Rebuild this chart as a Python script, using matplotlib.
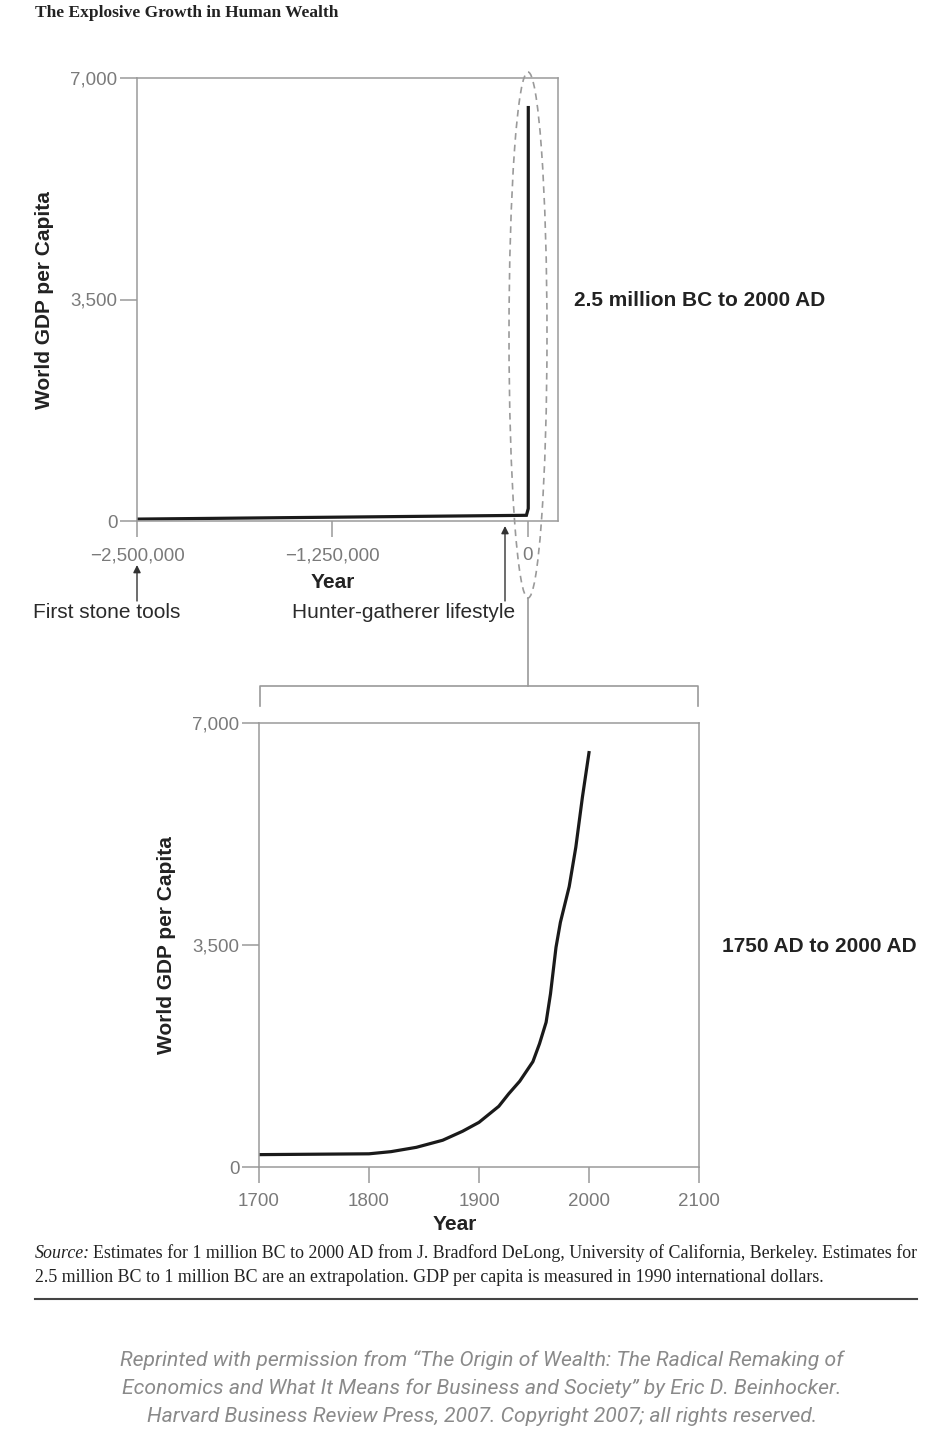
import matplotlib
matplotlib.use("Agg")
import matplotlib.pyplot as plt
from matplotlib.patches import Ellipse
from matplotlib.ticker import FuncFormatter

# data
prehist_years = [-2500000, -1250000, -10000]
prehist_gdp = [30, 60, 90]
years = [1700, 1800, 1820, 1843, 1867, 1885, 1900, 1918, 1927, 1937,
         1949, 1955, 1961, 1965, 1970, 1974, 1982, 1988, 1994, 2000]
gdp = [195, 208, 242, 310, 422, 563, 704, 957, 1154, 1352,
       1661, 1943, 2281, 2731, 3463, 3858, 4421, 5040, 5829, 6533]
top_xticks = [-2500000, -1250000, 0]
bottom_xticks = [1700, 1800, 1900, 2000, 2100]
yticks = [0, 3500, 7000]

SANS = ['Liberation Sans', 'DejaVu Sans']
SERIF = ['Liberation Serif', 'DejaVu Serif']
GRAY = '#9a9a9a'
TICKC = '#7a7a7a'

W, H = 950, 1432
fig = plt.figure(figsize=(W / 100, H / 100), dpi=100)
fig.patch.set_facecolor('white')


def px_axes(l, t, r, b):
    return fig.add_axes([l / W, 1 - b / H, (r - l) / W, (b - t) / H])


fmt = FuncFormatter(lambda v, p: '{:,.0f}'.format(v).replace('-', '\u2212'))


def style(ax, xpad):
    for s in ax.spines.values():
        s.set_color(GRAY)
        s.set_linewidth(1.1)
    ax.tick_params(axis='both', colors=GRAY, labelcolor=TICKC, labelsize=13.5,
                   width=1.1)
    ax.tick_params(axis='y', length=12.5, pad=1.5)
    ax.tick_params(axis='x', length=11.5, pad=xpad)
    ax.set_yticks(yticks)
    ax.yaxis.set_major_formatter(fmt)
    ax.set_ylim(0, 7000)
    for lab in ax.get_xticklabels() + ax.get_yticklabels():
        lab.set_family(SANS)


# top chart
ax1 = px_axes(137, 78, 558, 521)
ax1.plot(prehist_years + years, prehist_gdp + gdp, color='#1a1a1a', lw=2.3,
         solid_joinstyle='miter')
ax1.set_xlim(-2500000, 192000)
ax1.set_xticks(top_xticks)
ax1.xaxis.set_major_formatter(fmt)
style(ax1, 7.5)

# bottom chart
ax2 = px_axes(259, 723, 699, 1167)
ax2.plot(years, gdp, color='#1a1a1a', lw=2.3)
ax2.set_xlim(1700, 2100)
ax2.set_xticks(bottom_xticks)
style(ax2, 7.0)

# overlay in pixel coordinates for labels and connectors
ov = fig.add_axes([0, 0, 1, 1], zorder=5)
ov.set_xlim(0, W)
ov.set_ylim(H, 0)
ov.axis('off')
ov.patch.set_alpha(0)

ov.text(35, 13, 'The Explosive Growth in Human Wealth', family=SERIF,
        weight='bold', fontsize=12.5, color='#222', va='center', ha='left')

ylab = dict(family=SANS, weight='bold', fontsize=15, color='#222',
            rotation=90, ha='center', va='center')
ov.text(45, 300, 'World GDP per Capita', **ylab)
ov.text(167, 945, 'World GDP per Capita', **ylab)

xlab = dict(family=SANS, weight='bold', fontsize=15, color='#222',
            ha='center', va='center')
ov.text(333, 582, 'Year', **xlab)
ov.text(455, 1225, 'Year', **xlab)

ov.text(574, 301, '2.5 million BC to 2000 AD', family=SANS, weight='bold',
        fontsize=15, color='#222', va='center', ha='left')
ov.text(722, 946, '1750 AD to 2000 AD', family=SANS, weight='bold',
        fontsize=15, color='#222', va='center', ha='left')

note = dict(family=SANS, fontsize=15, color='#2a2a2a', va='center', ha='left')
ov.text(33, 613, 'First stone tools', **note)
ov.text(292, 613, 'Hunter-gatherer lifestyle', **note)

arr = dict(arrowstyle='-|>', color='#333', lw=1.0, mutation_scale=11,
           shrinkA=0, shrinkB=0)
ov.annotate('', xy=(137, 565), xytext=(137, 601), arrowprops=arr)
ov.annotate('', xy=(505, 526), xytext=(505, 601), arrowprops=arr)

# dashed ellipse and bracket
ov.add_patch(Ellipse((528, 335), 38, 526, fill=False, ec=GRAY, lw=1.2,
                     ls=(0, (4, 3))))
ov.plot([528, 528], [598, 686], color=GRAY, lw=1.2)
ov.plot([260, 260, 698, 698], [706, 686, 686, 706], color=GRAY, lw=1.2)

# source note
src = dict(family=SERIF, fontsize=12.85, color='#222', va='center', ha='left')
t0 = ov.text(35, 1253, 'Source:', style='italic', **src)
fig.canvas.draw()
x_after = t0.get_window_extent().x1 + 3
ov.text(x_after, 1253, 'Estimates for 1 million BC to 2000 AD from J. '
        'Bradford DeLong, University of California, Berkeley. Estimates for',
        **src)
ov.text(35, 1277, '2.5 million BC to 1 million BC are an extrapolation. GDP '
        'per capita is measured in 1990 international dollars.', **src)
ov.plot([35, 917], [1299, 1299], color='#444', lw=1.5)

credit = dict(family=['Roboto', 'DejaVu Sans'], style='italic', weight='normal',
              fontsize=15.2, color='#8a8a8a', ha='center', va='center')
ov.text(482, 1360, 'Reprinted with permission from \u201cThe Origin of Wealth: '
        'The Radical Remaking of', **credit)
ov.text(482, 1388, 'Economics and What It Means for Business and Society\u201d '
        'by Eric D. Beinhocker.', **credit)
ov.text(482, 1416, 'Harvard Business Review Press, 2007. Copyright 2007; '
        'all rights reserved.', **credit)

fig.savefig('out.png', dpi=100)
